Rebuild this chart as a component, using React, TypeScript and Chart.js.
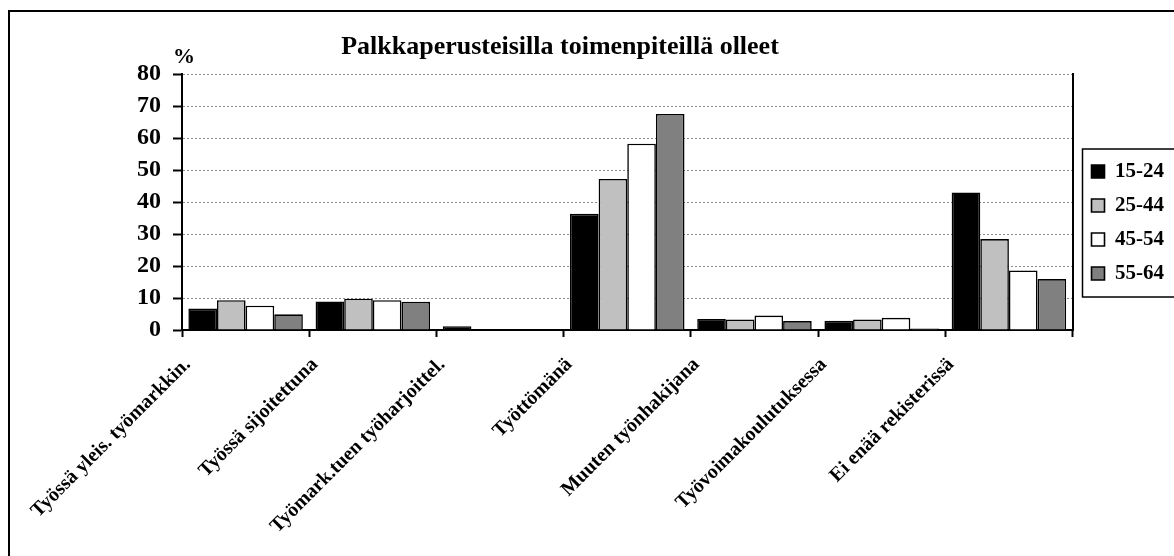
import React, { useEffect, useRef } from "react";
import { Chart, registerables } from "chart.js";

Chart.register(...registerables);

const TITLE = "Palkkaperusteisilla toimenpiteillä olleet";
const UNIT = "%";
const categories = [
  "Työssä yleis. työmarkkin.",
  "Työssä sijoitettuna",
  "Työmark.tuen työharjoittel.",
  "Työttömänä",
  "Muuten työnhakijana",
  "Työvoimakoulutuksessa",
  "Ei enää rekisterissä",
];
const seriesLabels = ["15-24", "25-44", "45-54", "55-64"];
const age15to24 = [6.7, 8.9, 1.2, 36.3, 3.4, 2.9, 43.0];
const age25to44 = [9.3, 9.8, 0, 47.2, 3.3, 3.3, 28.4];
const age45to54 = [7.6, 9.3, 0, 58.2, 4.5, 3.8, 18.6];
const age55to64 = [4.9, 8.8, 0, 67.5, 2.8, 0.5, 15.9];
const seriesColors = ["#000000", "#c0c0c0", "#ffffff", "#808080"];
const Y_MIN = 0;
const Y_MAX = 80;
const Y_STEP = 10;

const FONT = '"Liberation Serif", "Times New Roman", serif';

const decorPlugin = {
  id: "decor",
  afterDraw(chart: any) {
    const { ctx, chartArea } = chart;
    ctx.save();
    ctx.fillStyle = "#000";
    ctx.textAlign = "center";
    ctx.textBaseline = "alphabetic";
    ctx.font = `bold 26px ${FONT}`;
    ctx.fillText(TITLE, 560, 54);
    ctx.font = `bold 22px ${FONT}`;
    ctx.fillText(UNIT, chartArea.left + 2, chartArea.top - 11);
    const lg = chart.legend;
    if (lg && lg.legendHitBoxes && lg.legendHitBoxes.length) {
      const hb = lg.legendHitBoxes;
      const first = hb[0];
      const last = hb[hb.length - 1];
      const left = first.left - 9;
      const top = first.top - 12;
      const bottom = last.top + last.height + 13;
      ctx.strokeStyle = "#000";
      ctx.lineWidth = 1.5;
      ctx.strokeRect(left, top, chart.width + 20 - left, bottom - top);
    }
    ctx.restore();
  },
};

export default function App() {
  const ref = useRef<HTMLCanvasElement | null>(null);

  useEffect(() => {
    if (!ref.current) return;
    const data = [age15to24, age25to44, age45to54, age55to64];
    const chart = new Chart(ref.current, {
      type: "bar",
      data: {
        labels: categories,
        datasets: data.map((d, i) => ({
          label: seriesLabels[i],
          data: d,
          backgroundColor: seriesColors[i],
          borderColor: "#000000",
          borderWidth: 1.6,
          categoryPercentage: 0.9,
          barPercentage: 1.0,
        })),
      },
      options: {
        animation: false,
        responsive: false,
        devicePixelRatio: 1,
        layout: { padding: { top: 74, left: 0, right: 0, bottom: 0 } },
        plugins: {
          title: { display: false },
          tooltip: { enabled: false },
          legend: {
            display: true,
            position: "right",
            align: "start",
            title: {
              display: true,
              text: " ",
              font: { size: 12 },
              padding: { top: 59.6, bottom: 0 },
            },
            labels: {
              boxWidth: 13,
              boxHeight: 13,
              padding: 13,
              color: "#000",
              font: { family: FONT, size: 21, weight: "bold" },
            },
          },
        },
        scales: {
          x: {
            grid: {
              display: true,
              drawOnChartArea: false,
              drawTicks: true,
              tickLength: 7,
              tickColor: "#000",
              tickWidth: 2,
              offset: true,
            },
            border: { display: true, color: "#000", width: 2 },
            ticks: {
              autoSkip: false,
              minRotation: 45,
              maxRotation: 45,
              color: "#000",
              padding: 16,
              labelOffset: -58,
              font: { family: FONT, size: 20, weight: "bold" },
            },
            afterFit(scale: any) {
              scale.height = 226;
            },
          },
          y: {
            min: Y_MIN,
            max: Y_MAX,
            position: "left",
            ticks: {
              stepSize: Y_STEP,
              autoSkip: false,
              color: "#000",
              padding: 12,
              font: { family: FONT, size: 24, weight: "bold" },
            },
            grid: {
              color: "#8a8a8a",
              lineWidth: 1,
              tickColor: "#000",
              tickWidth: 2,
              tickLength: 9,
              tickBorderDash: [],
            },
            border: { display: true, color: "#000", width: 2, dash: [2, 2] },
            afterFit(scale: any) {
              scale.width = 182;
            },
          },
          y2: {
            position: "right",
            display: true,
            ticks: { display: false },
            grid: { display: false, drawTicks: false },
            border: { display: true, color: "#000", width: 2 },
            afterFit(scale: any) {
              scale.width = 6;
            },
          },
        },
      },
      plugins: [decorPlugin],
    } as any);
    return () => chart.destroy();
  }, []);

  return (
    <div
      style={{
        position: "fixed",
        left: 0,
        top: 0,
        width: 1174,
        height: 556,
        overflow: "hidden",
        background: "#fff",
      }}
    >
      <div
        style={{
          position: "absolute",
          left: 8,
          top: 10,
          width: 1300,
          height: 700,
          borderLeft: "2px solid #000",
          borderTop: "2px solid #000",
        }}
      />
      <canvas
        ref={ref}
        width={1174}
        height={556}
        style={{ position: "absolute", left: 0, top: 0, width: 1174, height: 556 }}
      />
    </div>
  );
}
